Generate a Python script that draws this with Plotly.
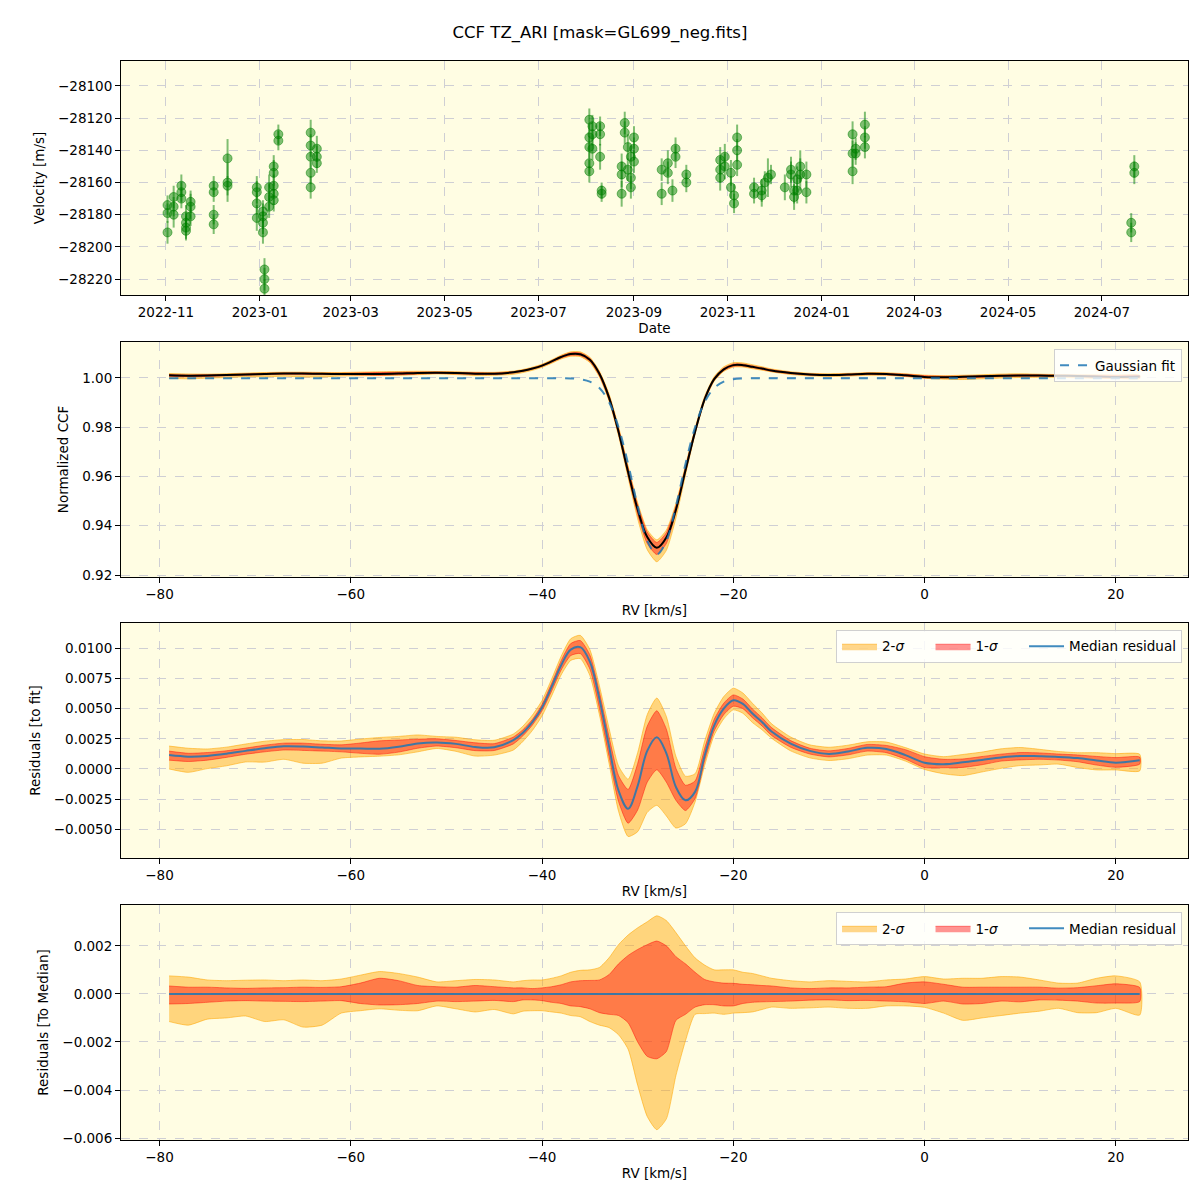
import plotly.graph_objects as go
from plotly.subplots import make_subplots

# ---- radial velocity time series (panel 1) ----
obs_date = [
    "2022-11-02", "2022-11-02", "2022-11-02", "2022-11-06", "2022-11-06", "2022-11-06",
    "2022-11-11", "2022-11-11", "2022-11-11", "2022-11-14", "2022-11-14", "2022-11-14",
    "2022-11-14", "2022-11-17", "2022-11-17", "2022-11-17",
    "2022-12-02", "2022-12-02", "2022-12-02", "2022-12-02", "2022-12-11", "2022-12-11",
    "2022-12-11",
    "2022-12-30", "2022-12-30", "2022-12-30", "2022-12-30", "2023-01-03", "2023-01-03",
    "2023-01-03", "2023-01-03", "2023-01-04", "2023-01-04", "2023-01-04", "2023-01-07",
    "2023-01-07", "2023-01-07", "2023-01-10", "2023-01-10", "2023-01-10", "2023-01-10",
    "2023-01-10", "2023-01-13", "2023-01-13",
    "2023-02-03", "2023-02-03", "2023-02-03", "2023-02-03", "2023-02-03", "2023-02-07",
    "2023-02-07", "2023-02-07",
    "2023-08-03", "2023-08-03", "2023-08-03", "2023-08-03", "2023-08-03", "2023-08-05",
    "2023-08-05", "2023-08-05", "2023-08-10", "2023-08-10", "2023-08-10", "2023-08-11",
    "2023-08-11", "2023-08-24", "2023-08-24", "2023-08-24", "2023-08-26", "2023-08-26",
    "2023-08-28", "2023-08-28", "2023-08-30", "2023-08-30", "2023-08-30", "2023-09-01",
    "2023-09-01", "2023-09-01",
    "2023-09-19", "2023-09-19", "2023-09-23", "2023-09-23", "2023-09-26", "2023-09-28",
    "2023-09-28", "2023-10-05", "2023-10-05",
    "2023-10-27", "2023-10-27", "2023-10-27", "2023-10-30", "2023-10-30", "2023-11-03",
    "2023-11-03", "2023-11-05", "2023-11-05", "2023-11-07", "2023-11-07", "2023-11-07",
    "2023-11-18", "2023-11-18", "2023-11-23", "2023-11-23", "2023-11-25", "2023-11-27",
    "2023-11-29",
    "2023-12-08", "2023-12-12", "2023-12-12", "2023-12-14", "2023-12-14", "2023-12-16",
    "2023-12-16", "2023-12-18", "2023-12-18", "2023-12-22", "2023-12-22",
    "2024-01-21", "2024-01-21", "2024-01-21", "2024-01-23", "2024-01-23", "2024-01-29",
    "2024-01-29", "2024-01-29",
    "2024-07-20", "2024-07-20", "2024-07-22", "2024-07-22",
]
obs_rv = [
    -28174, -28179, -28191, -28169, -28175, -28180,
    -28162, -28166, -28170, -28181, -28185, -28188,
    -28190, -28172, -28175, -28181,
    -28162, -28166, -28180, -28186, -28145, -28160,
    -28162,
    -28163, -28166, -28173, -28182, -28178, -28181,
    -28185, -28191, -28214, -28220, -28226, -28163,
    -28169, -28175, -28150, -28154, -28162, -28167,
    -28171, -28130, -28134,
    -28129, -28137, -28144, -28154, -28163, -28139,
    -28144, -28148,
    -28121, -28132, -28138, -28148, -28153, -28125,
    -28130, -28139, -28125, -28130, -28144, -28165,
    -28167, -28150, -28155, -28167, -28123, -28129,
    -28138, -28152, -28144, -28157, -28163, -28132,
    -28139, -28147,
    -28152, -28167, -28148, -28154, -28165, -28139,
    -28144, -28155, -28160,
    -28146, -28152, -28157, -28144, -28150, -28154,
    -28163, -28168, -28173, -28132, -28140, -28149,
    -28163, -28167, -28165, -28168, -28160, -28157,
    -28155,
    -28163, -28152, -28155, -28165, -28169, -28158,
    -28165, -28150, -28155, -28155, -28166,
    -28130, -28142, -28153, -28139, -28142, -28124,
    -28132, -28138,
    -28185, -28191, -28150, -28154,
]
obs_err = [
    6, 6, 7, 7, 6, 8,
    7, 6, 6, 7, 6, 7,
    6, 7, 8, 6,
    6, 6, 6, 6, 12, 12,
    6,
    7, 7, 7, 8, 7, 8,
    7, 7, 7, 7, 6, 8,
    8, 7, 7, 8, 7, 7,
    7, 6, 6,
    8, 7, 7, 7, 7, 8,
    7, 6,
    7, 8, 7, 7, 7, 7,
    7, 7, 6, 7, 8, 5,
    5, 8, 8, 8, 7, 7,
    8, 7, 7, 7, 7, 7,
    7, 7,
    7, 7, 8, 7, 7, 7,
    7, 6, 6,
    8, 8, 8, 8, 8, 8,
    7, 7, 6, 8, 7, 7,
    6, 6, 7, 7, 7, 12,
    6,
    8, 8, 8, 8, 8, 8,
    8, 10, 10, 8, 7,
    8, 8, 8, 7, 7, 8,
    7, 7,
    6, 6, 7, 7,
]

# ---- CCF profile and residual statistics (panels 2-4) ----
rv_grid = [
    -79, -77, -75, -73, -71, -69, -67, -65, -63, -61, -59, -57, -55, -53, -51, -49, -47, -45, -43,
    -42, -41, -40, -39, -38, -37, -36, -35, -34, -33, -32, -31, -30, -29, -28, -27, -26, -25,
    -24, -23, -22, -21, -20, -19, -18, -17, -16,
    -14, -12, -10, -8, -6, -4, -2, 0, 2, 4, 6, 8, 10, 12, 14, 16, 18, 20, 22.5,
]
gauss_fit = [
    0.9999, 0.9999, 0.9999, 0.9999, 0.9999, 0.9999, 0.9999, 0.9999, 0.9999, 0.9999, 0.9999,
    0.9999, 0.9999, 0.9999, 0.9999, 0.9999, 0.9999, 0.9999, 0.9999,
    0.9999, 0.9999, 0.9999, 0.9999, 0.9999, 0.9998, 0.9995, 0.9985, 0.9959, 0.9902, 0.9800,
    0.9651, 0.9480, 0.9339, 0.9284, 0.9339, 0.9480, 0.9651,
    0.9800, 0.9902, 0.9959, 0.9985, 0.9995, 0.9998, 0.9999, 0.9999, 0.9999,
    0.9999, 0.9999, 0.9999, 0.9999, 0.9999, 0.9999, 0.9999, 0.9999, 0.9999, 0.9999, 0.9999,
    0.9999, 0.9999, 0.9999, 0.9999, 0.9999, 0.9999, 0.9999, 0.9999,
]
resid_median = [
    0.00115, 0.00102, 0.00108, 0.00126, 0.00150, 0.00172, 0.00188, 0.00186, 0.00178, 0.00170,
    0.00170, 0.00168, 0.00185, 0.00212, 0.00220, 0.00208, 0.00182, 0.00180, 0.00240,
    0.00300, 0.00390, 0.00510, 0.00680, 0.00860, 0.00990, 0.01010, 0.00890, 0.00580, 0.00190,
    -0.00180, -0.00330, -0.00140, 0.00150, 0.00263, 0.00130, -0.00150, -0.00260,
    -0.00190, 0.00110, 0.00360, 0.00500, 0.00570, 0.00540, 0.00460, 0.00390, 0.00310,
    0.00210, 0.00150, 0.00125, 0.00145, 0.00175, 0.00165, 0.00115, 0.00052, 0.00040, 0.00055,
    0.00075, 0.00095, 0.00108, 0.00105, 0.00100, 0.00090, 0.00070, 0.00052, 0.00072,
]
# spread of the residuals around their median
sig2_hi = [
    0.00075, 0.00070, 0.00058, 0.00055, 0.00057, 0.00058, 0.00055, 0.00058, 0.00055, 0.00062,
    0.00078, 0.00093, 0.00085, 0.00070, 0.00050, 0.00055, 0.00060, 0.00058, 0.00050,
    0.00055, 0.00058, 0.00058, 0.00065, 0.00075, 0.00090, 0.00098, 0.00100, 0.00110, 0.00150,
    0.00205, 0.00245, 0.00275, 0.00300, 0.00325, 0.00305, 0.00255, 0.00200,
    0.00150, 0.00120, 0.00100, 0.00100, 0.00100, 0.00090, 0.00085, 0.00075, 0.00065,
    0.00055, 0.00050, 0.00055, 0.00052, 0.00050, 0.00058, 0.00062, 0.00072, 0.00062, 0.00065,
    0.00065, 0.00072, 0.00070, 0.00058, 0.00045, 0.00045, 0.00065, 0.00075, 0.00050,
]
sig1_hi = [
    0.00033, 0.00028, 0.00028, 0.00025, 0.00023, 0.00025, 0.00026, 0.00028, 0.00027, 0.00030,
    0.00045, 0.00065, 0.00055, 0.00035, 0.00030, 0.00028, 0.00035, 0.00030, 0.00025,
    0.00025, 0.00022, 0.00025, 0.00030, 0.00038, 0.00050, 0.00055, 0.00056, 0.00058, 0.00080,
    0.00125, 0.00160, 0.00185, 0.00205, 0.00220, 0.00200, 0.00155, 0.00125,
    0.00090, 0.00060, 0.00050, 0.00045, 0.00044, 0.00040, 0.00038, 0.00035, 0.00033,
    0.00025, 0.00022, 0.00025, 0.00025, 0.00028, 0.00030, 0.00045, 0.00050, 0.00040, 0.00028,
    0.00028, 0.00028, 0.00028, 0.00028, 0.00024, 0.00026, 0.00034, 0.00042, 0.00027,
]
sig1_lo = [
    -0.00042, -0.00040, -0.00035, -0.00030, -0.00028, -0.00030, -0.00031, -0.00032, -0.00030,
    -0.00028, -0.00040, -0.00046, -0.00045, -0.00040, -0.00030, -0.00032, -0.00030, -0.00027,
    -0.00032,
    -0.00025, -0.00025, -0.00028, -0.00035, -0.00040, -0.00050, -0.00053, -0.00062, -0.00078,
    -0.00085, -0.00090, -0.00120, -0.00200, -0.00260, -0.00270, -0.00240, -0.00110, -0.00085,
    -0.00055, -0.00045, -0.00045, -0.00050, -0.00050, -0.00040, -0.00035, -0.00033, -0.00032,
    -0.00030, -0.00026, -0.00025, -0.00028, -0.00027, -0.00030, -0.00033, -0.00040, -0.00030,
    -0.00042, -0.00040, -0.00030, -0.00033, -0.00025, -0.00026, -0.00030, -0.00038, -0.00038,
    -0.00032,
]
sig2_lo = [
    -0.00115, -0.00130, -0.00105, -0.00100, -0.00092, -0.00115, -0.00108, -0.00138, -0.00130,
    -0.00080, -0.00070, -0.00062, -0.00068, -0.00070, -0.00050, -0.00062, -0.00075, -0.00065,
    -0.00083,
    -0.00072, -0.00070, -0.00070, -0.00075, -0.00080, -0.00090, -0.00095, -0.00115, -0.00130,
    -0.00140, -0.00170, -0.00230, -0.00380, -0.00510, -0.00565, -0.00520, -0.00340, -0.00195,
    -0.00085, -0.00082, -0.00080, -0.00085, -0.00080, -0.00078, -0.00075, -0.00065, -0.00055,
    -0.00060, -0.00058, -0.00055, -0.00060, -0.00060, -0.00050, -0.00050, -0.00056, -0.00080,
    -0.00110, -0.00100, -0.00090, -0.00080, -0.00072, -0.00060, -0.00078, -0.00078, -0.00060,
    -0.00088,
]

ccf_median = [g + r for g, r in zip(gauss_fit, resid_median)]
zero_line = [0.0 for _ in rv_grid]

BG = "#FFFDE3"
GRID = "#CFCFD4"
ORANGE_FILL = "rgba(255,165,0,0.45)"
ORANGE_EDGE = "rgba(255,165,0,0.55)"
RED_FILL = "rgba(255,0,0,0.42)"
RED_EDGE = "rgba(255,0,0,0.45)"
BLUE = "rgba(31,119,180,0.85)"
FONT = "DejaVu Sans"
PAD = "&nbsp;" * 5  # widens the short legend entries like matplotlib's column spacing

fig = make_subplots(rows=4, cols=1)


def add_band(row, centre, lo, hi, fill, edge, name, legend, show):
    upper = [c + h for c, h in zip(centre, hi)]
    lower = [c + l for c, l in zip(centre, lo)]
    fig.add_trace(
        go.Scatter(
            x=rv_grid + rv_grid[::-1],
            y=upper + lower[::-1],
            fill="toself",
            fillcolor=fill,
            line=dict(color=edge, width=1, shape="spline", smoothing=0.6),
            mode="lines",
            name=name,
            legend=legend,
            showlegend=show,
            hoverinfo="skip",
        ),
        row=row,
        col=1,
    )


# panel 1
fig.add_trace(
    go.Scatter(
        x=obs_date,
        y=obs_rv,
        mode="markers",
        marker=dict(size=9, color="rgba(0,128,0,0.5)", line=dict(color="rgba(0,128,0,0.5)", width=1)),
        error_y=dict(type="data", array=obs_err, color="rgba(0,128,0,0.5)", thickness=2, width=0),
        name="Good",
        legend="legend",
    ),
    row=1,
    col=1,
)

# panel 2
add_band(2, ccf_median, sig2_lo, sig2_hi, ORANGE_FILL, ORANGE_EDGE, "2-σ", "legend2", False)
add_band(2, ccf_median, sig1_lo, sig1_hi, RED_FILL, RED_EDGE, "1-σ", "legend2", False)
fig.add_trace(
    go.Scatter(x=rv_grid, y=ccf_median, mode="lines", line=dict(color="black", width=2, shape="spline"),
               showlegend=False, legend="legend2"),
    row=2, col=1,
)
fig.add_trace(
    go.Scatter(x=rv_grid, y=gauss_fit, mode="lines",
               line=dict(color=BLUE, width=2, dash="dash", shape="spline"),
               name="Gaussian fit", legend="legend2"),
    row=2, col=1,
)

# panel 3
add_band(3, resid_median, sig2_lo, sig2_hi, ORANGE_FILL, ORANGE_EDGE, "2-<i>σ</i>" + PAD, "legend3", True)
add_band(3, resid_median, sig1_lo, sig1_hi, RED_FILL, RED_EDGE, "1-<i>σ</i>" + PAD, "legend3", True)
fig.add_trace(
    go.Scatter(x=rv_grid, y=resid_median, mode="lines", line=dict(color=BLUE, width=2, shape="spline"),
               name="Median residual", legend="legend3"),
    row=3, col=1,
)

# panel 4
add_band(4, zero_line, sig2_lo, sig2_hi, ORANGE_FILL, ORANGE_EDGE, "2-<i>σ</i>" + PAD, "legend4", True)
add_band(4, zero_line, sig1_lo, sig1_hi, RED_FILL, RED_EDGE, "1-<i>σ</i>" + PAD, "legend4", True)
fig.add_trace(
    go.Scatter(x=rv_grid, y=zero_line, mode="lines", line=dict(color=BLUE, width=2),
               name="Median residual", legend="legend4"),
    row=4, col=1,
)

axis_style = dict(
    showline=True, mirror=True, linecolor="black", linewidth=1,
    ticks="outside", ticklen=5, tickcolor="black", tickwidth=1,
    showgrid=True, gridcolor=GRID, griddash="dash", gridwidth=1,
    zeroline=False, tickfont=dict(size=13.5, color="black"),
)
for i in range(1, 5):
    fig.update_xaxes(axis_style, row=i, col=1)
    fig.update_yaxes(axis_style, row=i, col=1)

rv_range = [-84.03, 27.55]
fig.update_layout(
    xaxis=dict(type="date", range=["2022-10-02T19:00", "2024-08-25T21:00"], dtick="M2",
               tick0="2022-11-01", tickformat="%Y-%m",
               title=dict(text="Date", standoff=4, font=dict(size=13.5))),
    yaxis=dict(domain=[0.7831, 1.0], range=[-28229.9, -28084.5], dtick=20, tickformat="d",
               title=dict(text="Velocity [m/s]", standoff=10, font=dict(size=13.5))),
    xaxis2=dict(range=rv_range, dtick=20, title=dict(text="RV [km/s]", standoff=4, font=dict(size=13.5))),
    yaxis2=dict(domain=[0.5218, 0.7396], range=[0.9192, 1.0146], dtick=0.02, tickformat=".2f",
                title=dict(text="Normalized CCF", standoff=10, font=dict(size=13.5))),
    xaxis3=dict(range=rv_range, dtick=20, title=dict(text="RV [km/s]", standoff=4, font=dict(size=13.5))),
    yaxis3=dict(domain=[0.2614, 0.4791], range=[-0.00738, 0.0121], dtick=0.0025, tickformat=".4f",
                title=dict(text="Residuals [to fit]", standoff=10, font=dict(size=13.5))),
    xaxis4=dict(range=rv_range, dtick=20, title=dict(text="RV [km/s]", standoff=4, font=dict(size=13.5))),
    yaxis4=dict(domain=[0.0, 0.2178], range=[-0.00608, 0.0037], dtick=0.002, tickformat=".3f",
                title=dict(text="Residuals [To Median]", standoff=10, font=dict(size=13.5))),
)

legend_style = dict(
    xanchor="right", x=0.9944, yanchor="top",
    bgcolor="rgba(255,255,255,0.8)", bordercolor="#D0D0D0", borderwidth=1,
    font=dict(size=13.5, color="black"),
)
fig.update_layout(
    legend=dict(legend_style, y=0.9944),
    legend2=dict(legend_style, y=0.7331),
    legend3=dict(legend_style, y=0.4727, orientation="h", itemwidth=35),
    legend4=dict(legend_style, y=0.2113, orientation="h", itemwidth=35),
)

# the page adds an 8px body margin, so the figure is 1192 px and shifted accordingly
fig.update_layout(
    width=1192,
    height=1192,
    template="none",
    paper_bgcolor="white",
    plot_bgcolor=BG,
    font=dict(family=FONT, size=13.5, color="black"),
    margin=dict(l=113, r=12, t=53, b=60),
    title=dict(text="CCF TZ_ARI [mask=GL699_neg.fits]", x=592 / 1192, xref="container", xanchor="center",
               y=1 - 24 / 1192, yref="container", yanchor="middle", font=dict(size=16.5)),
)

fig.write_html("out.html")
